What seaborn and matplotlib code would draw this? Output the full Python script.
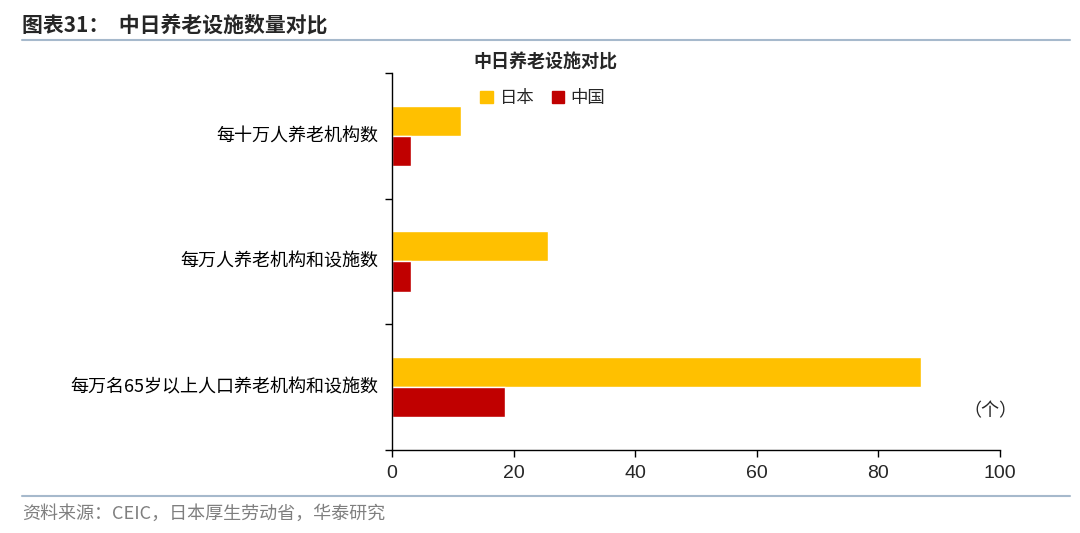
import pandas as pd
import seaborn as sns
import matplotlib.pyplot as plt
from matplotlib.lines import Line2D
from matplotlib.patches import Patch

# dados
categorias = ['每十万人养老机构数', '每万人养老机构和设施数', '每万名65岁以上人口养老机构和设施数']
paises = ['日本', '中国']
japao = [11.3, 25.7, 87.0]
china = [3.1, 3.1, 18.5]
cores = ['#FFC000', '#C00000']

dados = pd.DataFrame({
    'categoria': categorias * 2,
    'pais': [paises[0]] * 3 + [paises[1]] * 3,
    'valor': japao + china,
})

sns.set_style('white')
plt.rcParams['font.family'] = ['Noto Sans CJK SC', 'DejaVu Sans']

fig = plt.figure(figsize=(10.8, 5.33), dpi=100)
ax = fig.add_axes([0.363, 0.156, 0.563, 0.707])

sns.barplot(data=dados, y='categoria', x='valor', hue='pais', order=categorias,
            hue_order=paises, palette=cores, width=0.48, orient='h',
            saturation=1, ax=ax, legend=False)

ax.set_xlim(0, 100)
ax.set_ylim(2.5, -0.5)
ax.set_xticks([0, 20, 40, 60, 80, 100])
ax.set_xticklabels(['0', '20', '40', '60', '80', '100'], family='Liberation Sans', fontsize=14)
ax.set_yticks([-0.5, 0.5, 1.5, 2.5])
ax.set_yticklabels([])
ax.tick_params(axis='y', length=5, width=1, color='black', direction='out', left=True)
ax.tick_params(axis='x', length=5, width=1, color='black', direction='out', bottom=True, pad=6)
for i, c in enumerate(categorias):
    ax.text(-0.022, i, c, transform=ax.get_yaxis_transform(), ha='right', va='center',
            fontsize=13, color='black')
ax.set_xlabel('')
ax.set_ylabel('')
for s in ['top', 'right']:
    ax.spines[s].set_visible(False)
for s in ['left', 'bottom']:
    ax.spines[s].set_color('black')
    ax.spines[s].set_linewidth(1)

# legenda e titulo do grafico
ax.legend(handles=[Patch(color=cores[0], label=paises[0]), Patch(color=cores[1], label=paises[1])],
          loc='center', bbox_to_anchor=(543 / 1080, 1 - 98 / 533), bbox_transform=fig.transFigure,
          ncol=2, frameon=False, fontsize=12.5, handlelength=0.7, handleheight=0.7,
          handletextpad=0.4, columnspacing=1.0)
fig.text(545 / 1080, 1 - 62 / 533, '中日养老设施对比', ha='center', va='center',
         fontsize=13, fontweight='bold')
fig.text(990 / 1080, 1 - 411 / 533, '（个）', ha='center', va='center', fontsize=13)

# cabecalho e rodape
fig.text(22 / 1080, 1 - 25 / 533, '图表31：  中日养老设施数量对比', ha='left', va='center',
         fontsize=15, fontweight='bold')
fig.add_artist(Line2D([22 / 1080, 1070 / 1080], [1 - 40 / 533] * 2, color='#A6B9CC', lw=1.5))
fig.add_artist(Line2D([22 / 1080, 1070 / 1080], [1 - 496 / 533] * 2, color='#A6B9CC', lw=1.5))
fig.text(22 / 1080, 1 - 514 / 533, '资料来源：CEIC，日本厚生劳动省，华泰研究', ha='left', va='center',
         fontsize=13, color='#7F7F7F')

plt.savefig('out.png', dpi=100)
